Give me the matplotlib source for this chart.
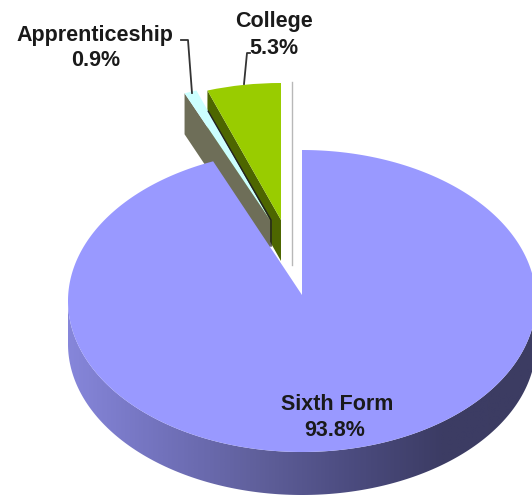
import numpy as np
import matplotlib
matplotlib.use("Agg")
import matplotlib.pyplot as plt
from matplotlib.patches import Wedge, Polygon, PathPatch
from matplotlib.path import Path
from matplotlib.transforms import Affine2D
from matplotlib.colors import LinearSegmentedColormap

categories = ["Sixth Form", "Apprenticeship", "College"]
shares = [93.8, 0.9, 5.3]
labels = ["93.8%", "0.9%", "5.3%"]

plt.rcParams['font.family'] = ['Liberation Sans', 'DejaVu Sans']
W, H = 532, 495
fig = plt.figure(figsize=(W / 100, H / 100), dpi=100)
ax = fig.add_axes([0, 0, 1, 1])


def pt(c, rx, ry, ang):
    a = np.radians(ang)
    return (c[0] + rx * np.cos(a), c[1] - ry * np.sin(a))


def wedge(c, rx, ry, a1, a2, color, z):
    tr = Affine2D().scale(rx, -ry).translate(*c) + ax.transData
    ax.add_patch(Wedge((0, 0), 1, a1, a2, facecolor=color, edgecolor='none', transform=tr, zorder=z))


# ---- slice angles (clockwise from 12 o'clock: Sixth Form, Apprenticeship, College)
a_col = [90, 90 + shares[2] * 3.6]
a_app = [a_col[1], a_col[1] + shares[1] * 3.6]
a_main = [a_app[1], 450]

# ---- main slice side wall with horizontal shading
C_main, APEX, RX, RY, DEPTH = (302, 301), (302, 295), 234, 151, 43
ts = np.linspace(180, 360, 200)
top = np.array([pt(C_main, RX, RY, t) for t in ts])
bot = top + [0, DEPTH]
side = np.vstack([top, bot[::-1]])
side_patch = PathPatch(Path(np.vstack([side, side[:1]]), closed=True), facecolor='none', edgecolor='none')
ax.add_patch(side_patch)
cmap = LinearSegmentedColormap.from_list("side", ["#8686da", "#7272bc", "#60609c", "#4c4c80", "#3c3c64", "#3c3c62"])
im = ax.imshow(np.linspace(0, 1, 400)[None, :], cmap=cmap,
               extent=[C_main[0] - RX, C_main[0] + RX, 500, 290], aspect='auto', zorder=1)
im.set_clip_path(side_patch)

# ---- detached slices
C_col, C_app, RX2, RY2, D2 = (281, 220), (270, 220), 225, 137, 41

# outline of the empty white slice behind College
ax.plot([292, 292], [82, 265], color='#b8b8b8', lw=1.0, zorder=1.5)

# College side wall
corner = pt(C_col, RX2, RY2, a_col[1])
ax.add_patch(Polygon([C_col, corner, (corner[0], corner[1] + D2), (C_col[0], C_col[1] + D2)],
                     facecolor='#4d6600', edgecolor='none', zorder=2))

# Apprenticeship side wall, face and dark inner edge
corner = pt(C_app, RX2, RY2, a_app[1])
ax.add_patch(Polygon([C_app, corner, (corner[0], corner[1] + D2), (C_app[0], C_app[1] + D2 + 1)],
                     facecolor='#6e6e58', edgecolor='none', zorder=2.7))
wedge(C_app, RX2, RY2, a_app[0], a_app[1], '#ccffff', 3)
cr = np.array(pt(C_app, RX2, RY2, a_app[0]))
edge_start = cr + (np.array(C_app) - cr) * 0.16
ax.plot([edge_start[0], C_app[0] + 1, C_app[0] + 1], [edge_start[1], C_app[1], C_app[1] + D2 - 15],
        color='#222222', lw=1.0, zorder=3.2)

# College face
wedge(C_col, RX2, RY2, a_col[0], a_col[1], '#99cc00', 4)

# main top face: arc from the ellipse, closed at the apex
arc = np.array([pt(C_main, RX, RY, t) for t in np.linspace(a_main[0], a_main[1], 400)])
ax.add_patch(Polygon(np.vstack([[APEX], arc]), closed=True, facecolor='#9999ff', edgecolor='none', zorder=5))

# ---- labels
fs = 15.5
tc = '#1a1a1a'
kw = dict(ha='center', va='center', fontsize=fs, fontweight='bold', color=tc, zorder=6)
ax.text(337, 404, categories[0], **kw)
ax.text(335, 430, labels[0], **kw)
ax.text(95, 35, categories[1], **kw)
ax.text(96, 61, labels[1], **kw)
ax.text(274, 21, categories[2], **kw)
ax.text(274, 48, labels[2], **kw)

# ---- leader lines
ax.plot([181, 188, 192], [40, 40, 93], color='#333333', lw=1.3, zorder=6)
ax.plot([250, 247, 244], [53, 53, 84], color='#333333', lw=1.3, zorder=6)

ax.set_xlim(0, W)
ax.set_ylim(H, 0)
ax.axis('off')
fig.savefig('out.png', dpi=100, facecolor='white')
